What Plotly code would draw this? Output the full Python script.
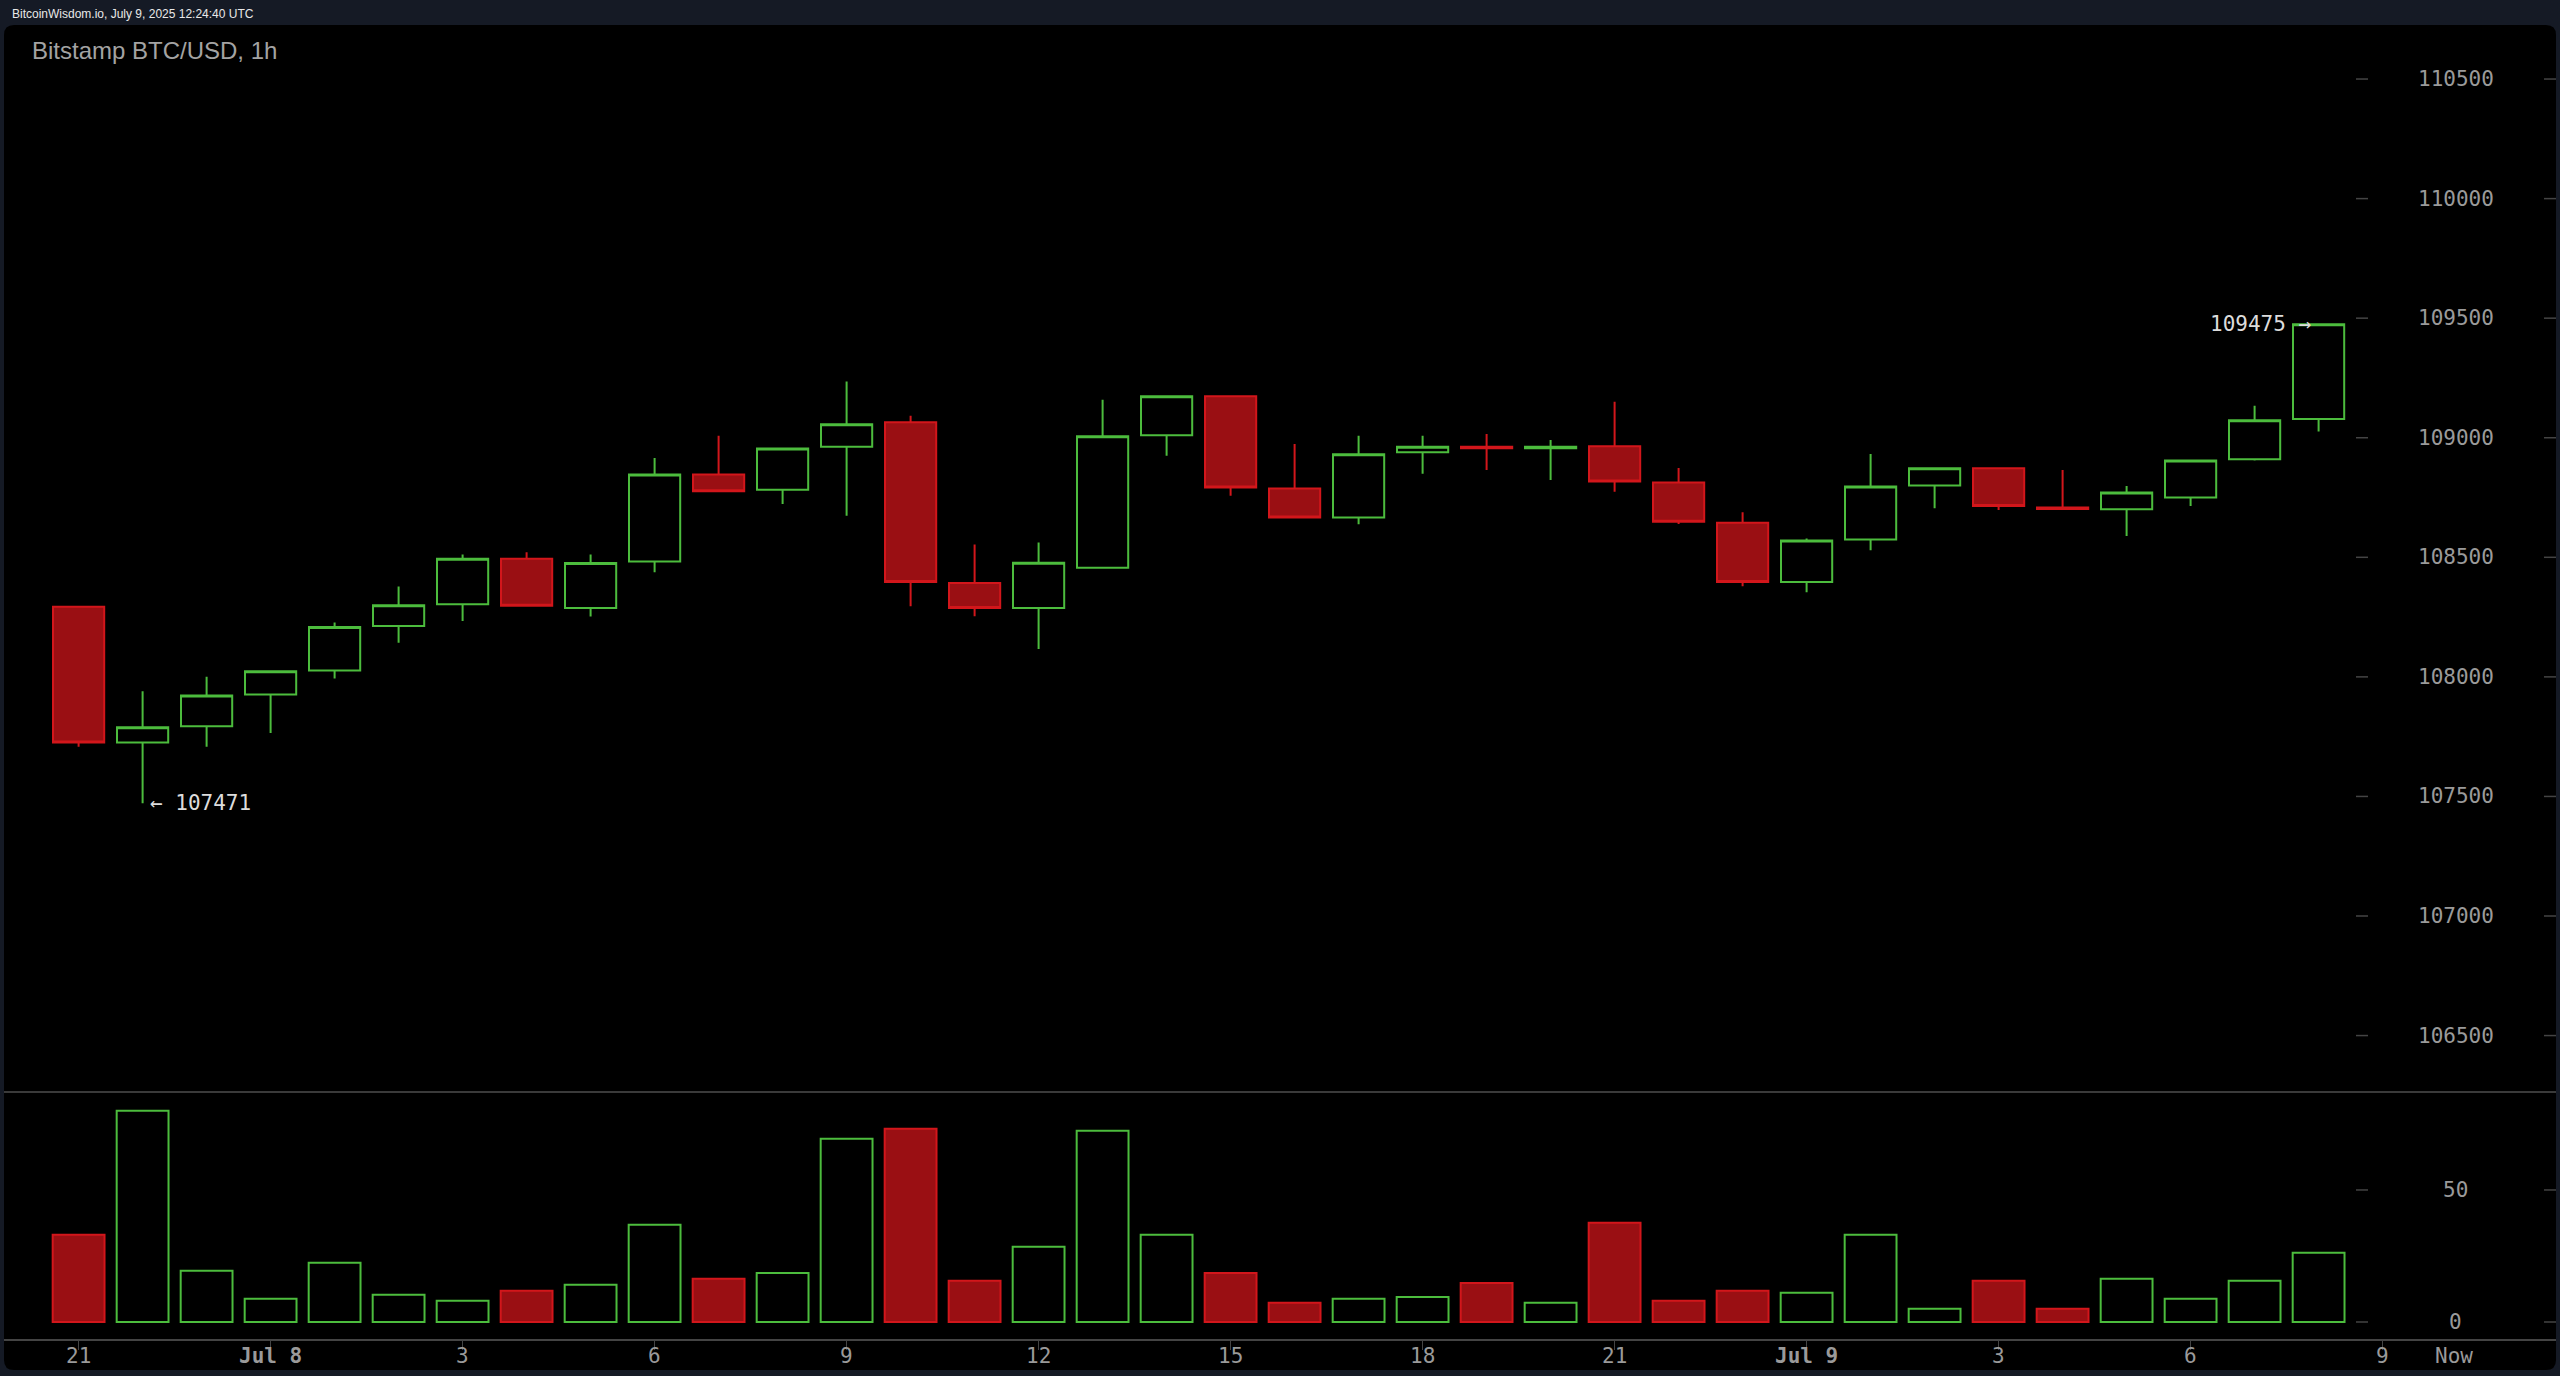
import pandas as pd
import plotly.graph_objects as go

# ---------------- data ----------------
times = pd.date_range("2025-07-07 21:00", periods=36, freq="h")

opens = [108293, 107726, 107793, 107926, 108027, 108213, 108304, 108494, 108288, 108482,
         108846, 108783, 108962, 109065, 108393, 108288, 108456, 109010, 109174, 108788,
         108666, 108939, 108962, 108956, 108964, 108813, 108645, 108397, 108574, 108800,
         108872, 108708, 108701, 108750, 108910, 109078]
highs = [108295, 107940, 108000, 108025, 108227, 108378, 108512, 108521, 108512, 108915,
         109008, 108956, 109235, 109092, 108554, 108562, 109159, 109174, 109176, 108974,
         109008, 109008, 109016, 108991, 109150, 108873, 108688, 108579, 108932, 108872,
         108873, 108865, 108798, 108905, 109134, 109475]
lows = [107708, 107471, 107708, 107765, 107993, 108143, 108234, 108295, 108252, 108437,
        108774, 108723, 108674, 108295, 108253, 108117, 108455, 108925, 108757, 108665,
        108638, 108849, 108865, 108823, 108774, 108639, 108379, 108354, 108530, 108705,
        108698, 108700, 108589, 108715, 108905, 109026]
closes = [107726, 107789, 107922, 108023, 108209, 108300, 108494, 108297, 108476, 108846,
          108776, 108955, 109056, 108397, 108288, 108477, 109006, 109174, 108792, 108666,
          108931, 108962, 108956, 108962, 108817, 108649, 108397, 108570, 108796, 108872,
          108715, 108702, 108771, 108905, 109073, 109475]
volumes = [33.0, 80.0, 19.4, 8.8, 22.4, 10.3, 8.0, 11.8, 14.1, 36.8,
           16.4, 18.6, 69.4, 73.2, 15.6, 28.5, 72.4, 33.0, 18.6, 7.3,
           8.8, 9.5, 14.8, 7.3, 37.6, 8.0, 11.8, 11.1, 33.0, 5.0,
           15.6, 5.0, 16.4, 8.8, 15.6, 26.2]

price_ticks = [106500, 107000, 107500, 108000, 108500, 109000, 109500, 110000, 110500]
volume_ticks = [0, 50]
x_tick_times = pd.date_range("2025-07-07 21:00", "2025-07-09 09:00", freq="3h")
x_tick_text = ["21", "<b>Jul 8</b>", "3", "6", "9", "12", "15", "18", "21",
               "<b>Jul 9</b>", "3", "6", "9"]

header_text = "BitcoinWisdom.io, July 9, 2025 12:24:40 UTC"
title_text = "Bitstamp BTC/USD, 1h"

# ---------------- style ----------------
W, H = 2560, 1376
ML, MR, MT, MB = 4, 4, 25, 37
PW, PH = W - ML - MR, H - MT - MB

GREEN = "#4cbc3d"
RED_LINE = "#d2161b"
RED_FILL = "#9a0f13"
PAGE_BG = "#151a25"
AXIS_GREY = "#444444"
LABEL_GREY = "#9a9a9a"
MONO = "DejaVu Sans Mono"


def px_x(px):
    return (px - ML) / PW


def px_y(py):
    return (H - MB - py) / PH


vol_frac = px_y(1092)

fig = go.Figure()

fig.add_trace(go.Candlestick(
    x=times, open=opens, high=highs, low=lows, close=closes,
    increasing=dict(line=dict(color=GREEN, width=2), fillcolor="rgba(0,0,0,0)"),
    decreasing=dict(line=dict(color=RED_LINE, width=2), fillcolor=RED_FILL),
    whiskerwidth=0, hoverinfo="skip", showlegend=False,
    xaxis="x", yaxis="y",
))

is_down = [c < o for o, c in zip(opens, closes)]
fig.add_trace(go.Bar(
    x=times, y=volumes,
    marker=dict(
        color=[RED_FILL if d else "rgba(0,0,0,0)" for d in is_down],
        line=dict(color=[RED_LINE if d else GREEN for d in is_down], width=2),
    ),
    hoverinfo="skip", showlegend=False,
    xaxis="x", yaxis="y2",
))

shapes = []
# black rounded panel
x0, x1 = px_x(4), px_x(2556)
y0, y1 = px_y(1370), px_y(25)
rx, ry = 10 / PW, 10 / PH
path = (f"M {x0+rx},{y1} L {x1-rx},{y1} Q {x1},{y1} {x1},{y1-ry} "
        f"L {x1},{y0+ry} Q {x1},{y0} {x1-rx},{y0} L {x0+rx},{y0} "
        f"Q {x0},{y0} {x0},{y0+ry} L {x0},{y1-ry} Q {x0},{y1} {x0+rx},{y1} Z")
shapes.append(dict(type="path", path=path, xref="paper", yref="paper",
                   fillcolor="#000000", line=dict(width=0), layer="below"))
# price/volume separator
shapes.append(dict(type="line", xref="paper", yref="paper", x0=0, x1=1,
                   y0=vol_frac, y1=vol_frac, line=dict(color="#3a3a3a", width=2)))

annotations = []
for axis_ref, ticks in (("y", price_ticks), ("y2", volume_ticks)):
    for v in ticks:
        annotations.append(dict(x=px_x(2455.5), xref="paper", y=v, yref=axis_ref,
                                text=str(v), showarrow=False, xanchor="center",
                                yanchor="middle",
                                font=dict(family=MONO, size=21, color=LABEL_GREY)))
        for a, b in ((2356, 2368), (2544, 2556)):
            shapes.append(dict(type="line", xref="paper", yref=axis_ref,
                               x0=px_x(a), x1=px_x(b), y0=v, y1=v,
                               line=dict(color=AXIS_GREY, width=1.5)))

# x tick labels (placed just under the axis line, as in the reference)
x_label_y = px_y(1356)
for t, txt in zip(x_tick_times, x_tick_text):
    annotations.append(dict(x=t, xref="x", y=x_label_y, yref="paper",
                            text=txt, showarrow=False, xanchor="center", yanchor="middle",
                            font=dict(family=MONO, size=21, color=LABEL_GREY)))

annotations.append(dict(x=px_x(2454), xref="paper", y=x_label_y, yref="paper",
                        text="Now", showarrow=False, xanchor="center", yanchor="middle",
                        font=dict(family=MONO, size=21, color=LABEL_GREY)))

annotations.append(dict(x=px_x(10), xref="paper", y=px_y(14.5), yref="paper",
                        text=header_text, showarrow=False, xanchor="left", yanchor="middle",
                        font=dict(family="Liberation Sans", size=12, color="#e8e8e8")))
annotations.append(dict(x=px_x(30), xref="paper", y=px_y(50.5), yref="paper",
                        text=title_text, showarrow=False, xanchor="left", yanchor="middle",
                        font=dict(family="Liberation Sans", size=24, color="#a3a3a3")))

i_min = min(range(len(lows)), key=lambda i: lows[i])
annotations.append(dict(x=times[i_min], xref="x", y=lows[i_min], yref="y",
                        text=f"\u2190 {lows[i_min]}", showarrow=False, xanchor="left",
                        yanchor="middle", xshift=5,
                        font=dict(family=MONO, size=21, color="#dcdcdc")))
annotations.append(dict(x=times[-1], xref="x", y=closes[-1], yref="y",
                        text=f"{closes[-1]} \u2192", showarrow=False, xanchor="right",
                        yanchor="middle", xshift=-6,
                        font=dict(family=MONO, size=21, color="#dcdcdc")))

fig.update_layout(
    template="none",
    width=W, height=H,
    margin=dict(l=ML, r=MR, t=MT, b=MB, pad=0),
    paper_bgcolor=PAGE_BG,
    plot_bgcolor="rgba(0,0,0,0)",
    showlegend=False,
    hovermode=False,
    boxgap=0.2, boxgroupgap=0,
    bargap=0.19,
    xaxis=dict(
        domain=[0, 1], anchor="y2", type="date",
        range=["2025-07-07 19:50:04", "2025-07-09 11:42:34"],
        tickvals=list(x_tick_times), showticklabels=False,
        ticks="outside", ticklen=9, tickwidth=1.5, tickcolor=AXIS_GREY,
        showline=True, linecolor=AXIS_GREY, linewidth=2,
        showgrid=False, zeroline=False, automargin=False,
        rangeslider=dict(visible=False), fixedrange=True,
    ),
    yaxis=dict(
        domain=[vol_frac, 1], range=[106264, 110726],
        showticklabels=False, showgrid=False, zeroline=False, ticks="",
        showline=False, automargin=False, fixedrange=True,
    ),
    yaxis2=dict(
        domain=[0, vol_frac], range=[-6.44, 87.1],
        showticklabels=False, showgrid=False, zeroline=False, ticks="",
        showline=False, automargin=False, fixedrange=True,
    ),
    shapes=shapes,
    annotations=annotations,
)

fig.write_html(
    "out.html",
    config={"displayModeBar": False, "staticPlot": True},
    post_script="document.body.style.margin='0';document.body.style.overflow='hidden';",
)
